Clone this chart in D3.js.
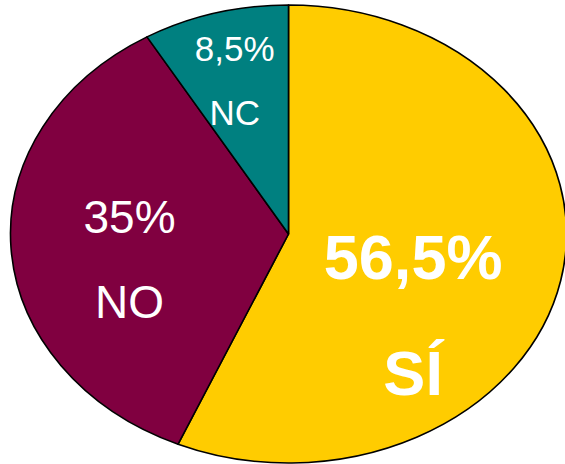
<!DOCTYPE html>
<html>
<head>
<meta charset="utf-8">
<script src="https://cdn.jsdelivr.net/npm/d3@7"></script>
<style>
  body { margin: 0; background: #fff; }
  svg { display: block; }
  text { font-family: "Liberation Sans", Arial, sans-serif; fill: #fff; }
</style>
</head>
<body>
<svg id="chart"></svg>
<script>
// Chart data
var categories = ["SÍ", "NO", "NC"];
var shares = [56.5, 35, 8.5];
var valueLabels = ["56,5%", "35%", "8,5%"];
var sliceColours = ["#ffcc00", "#800040", "#008080"];

function drawPie() {
    var width = 565,
        height = 464,
        cx = 288.5,
        cy = 234,
        rx = 278,
        ry = 229,
        r = 100;

    var svg = d3.select("#chart")
        .attr("width", width)
        .attr("height", height);

    var pie = d3.pie()
        .value(function (d) { return d; })
        .sort(null);

    var arc = d3.arc()
        .innerRadius(0)
        .outerRadius(r);

    var slices = pie(shares);

    // Pie is drawn as a circle and squashed into an ellipse
    var g = svg.append("g")
        .attr("transform", "translate(" + cx + "," + cy + ") scale(" + (rx / r) + "," + (ry / r) + ")");

    g.selectAll("path")
        .data(slices)
        .enter().append("path")
        .attr("d", arc)
        .attr("fill", function (d, i) { return sliceColours[i]; })
        .attr("stroke", "#000")
        .attr("stroke-width", 1.6)
        .attr("stroke-linejoin", "round")
        .attr("vector-effect", "non-scaling-stroke");

    // Label placement: where along the slice, how far out, font size, bold
    var labelStyle = [
        {along: 0.63, dist: 0.57, size: 63, weight: "bold"},
        {along: 0.443, dist: 0.582, size: 46, weight: "normal"},
        {along: 0.474, dist: 0.698, size: 35, weight: "normal"}
    ];

    var labels = svg.append("g")
        .attr("transform", "translate(" + cx + "," + cy + ")");

    slices.forEach(function (d, i) {
        var s = labelStyle[i];
        var a = d.startAngle + (d.endAngle - d.startAngle) * s.along;
        var x = Math.sin(a) * s.dist * rx,
            y = -Math.cos(a) * s.dist * ry;
        var gap = s.size * 0.925;

        var t = labels.append("text")
            .attr("text-anchor", "middle")
            .attr("font-size", s.size + "px")
            .attr("font-weight", s.weight);

        t.append("tspan")
            .attr("x", x)
            .attr("y", y - gap)
            .attr("dy", "0.358em")
            .text(valueLabels[i]);

        t.append("tspan")
            .attr("x", x)
            .attr("y", y + gap)
            .attr("dy", "0.358em")
            .text(categories[i]);
    });
}

drawPie();
</script>
</body>
</html>
